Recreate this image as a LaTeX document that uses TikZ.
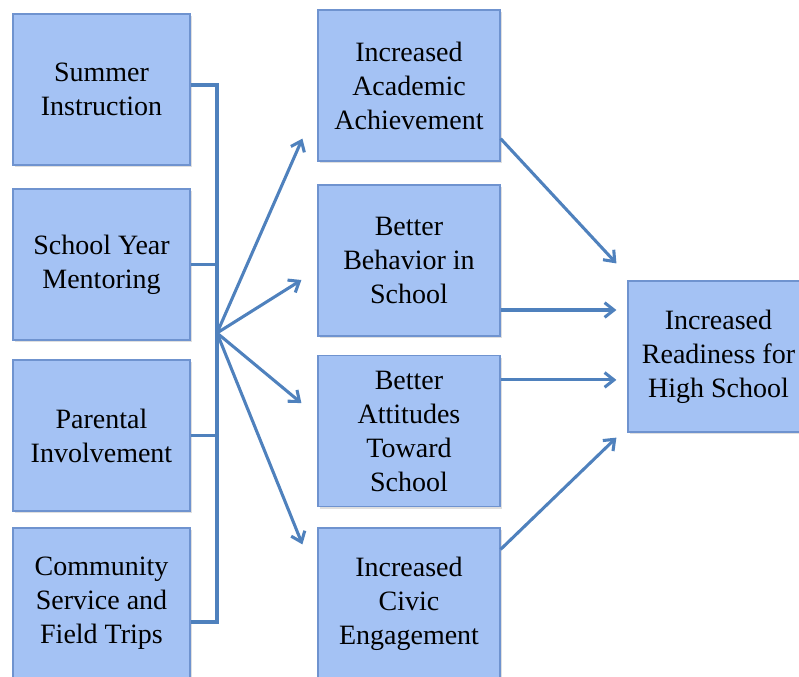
\documentclass[tikz,border=0pt]{standalone}
\usepackage{fontspec}
\setmainfont{Liberation Serif}
\usetikzlibrary{arrows.meta,shadows,calc}
\definecolor{boxfill}{HTML}{A4C2F4}
\definecolor{boxline}{HTML}{6F93CF}
\definecolor{linkblue}{HTML}{4F81BD}
\tikzset{
  block/.style={draw=boxline, line width=0.9pt, fill=boxfill,
    align=center, inner sep=2pt,
    font=\fontsize{21}{25.5}\selectfont,
    drop shadow={opacity=0.25, shadow xshift=1.2pt, shadow yshift=-1.6pt}},
  leftblock/.style={block, minimum width=132.75pt, minimum height=113.25pt},
  midblock/.style={block, minimum width=136.5pt, minimum height=113.25pt},
  link/.style={draw=linkblue, line width=2.3pt},
  arrowlink/.style={link, -{Straight Barb[length=7pt,width=11pt,line width=2.3pt]}}
}
\begin{document}
\begin{tikzpicture}[x=0.75pt,y=-0.75pt]
\useasboundingbox (0,0) rectangle (799,676);

% program components
\node[leftblock] (s1) at (101.5,89.5) {Summer\\Instruction};
\node[leftblock] (s2) at (101.5,264.5) {School Year\\Mentoring};
\node[leftblock] (s3) at (101.5,435.5) {Parental\\Involvement};
\node[leftblock] (s4) at (101.5,603.5) {Community\\Service and\\Field Trips};

% intermediate outcomes
\node[midblock] (m1) at (409,85.5) {Increased\\Academic\\Achievement};
\node[midblock] (m2) at (409,260.5) {Better\\Behavior in\\School};
\node[midblock] (m3) at (409,431) {Better\\Attitudes\\Toward\\School};
\node[midblock] (m4) at (409,603.5) {Increased\\Civic\\Engagement};

% final outcome
\node[midblock, minimum width=135.75pt] (r) at (718.5,356.5) {Increased\\Readiness for\\High School};

% bracket joining the components
\coordinate (hub) at (217,333);
\coordinate (b1) at ($(s1.east)+(0,-4.5)$);
\coordinate (b4) at ($(s4.east)+(0,18.5)$);
\draw[link] (b1) -- (b1 -| hub) -- (b4 -| hub) -- (b4);
\draw[link] (s2.east) -- (s2.east -| hub);
\draw[link] (s3.east) -- (s3.east -| hub);

% fan of arrows to the intermediate outcomes
\coordinate (t1) at ($(m1.south west)+(-15,-23)$);
\coordinate (t2) at ($(m2.west)+(-16,19.5)$);
\coordinate (t3) at ($(m3.south west)+(-16,-104)$);
\coordinate (t4) at ($(m4.north west)+(-15,17)$);
\draw[arrowlink] (hub) -- (t1);
\draw[arrowlink] (hub) -- (t2);
\draw[arrowlink] (hub) -- (t3);
\draw[arrowlink] (hub) -- (t4);

% arrows into the final outcome
\coordinate (o1) at ($(m1.south east)+(0,-23)$);
\coordinate (o2) at ($(m2.east)+(0,49.5)$);
\coordinate (o3) at ($(m3.north east)+(0,25)$);
\coordinate (o4) at ($(m4.north east)+(0,22)$);
\coordinate (rw) at ($(r.west)+(-11,0)$);
\draw[arrowlink] (o1) -- ($(r.north west)+(-11,-17)$);
\draw[arrowlink] (o2) -- (o2 -| rw);
\draw[arrowlink] (o3) -- (o3 -| rw);
\draw[arrowlink] (o4) -- ($(r.south west)+(-11,5)$);
\end{tikzpicture}
\end{document}
